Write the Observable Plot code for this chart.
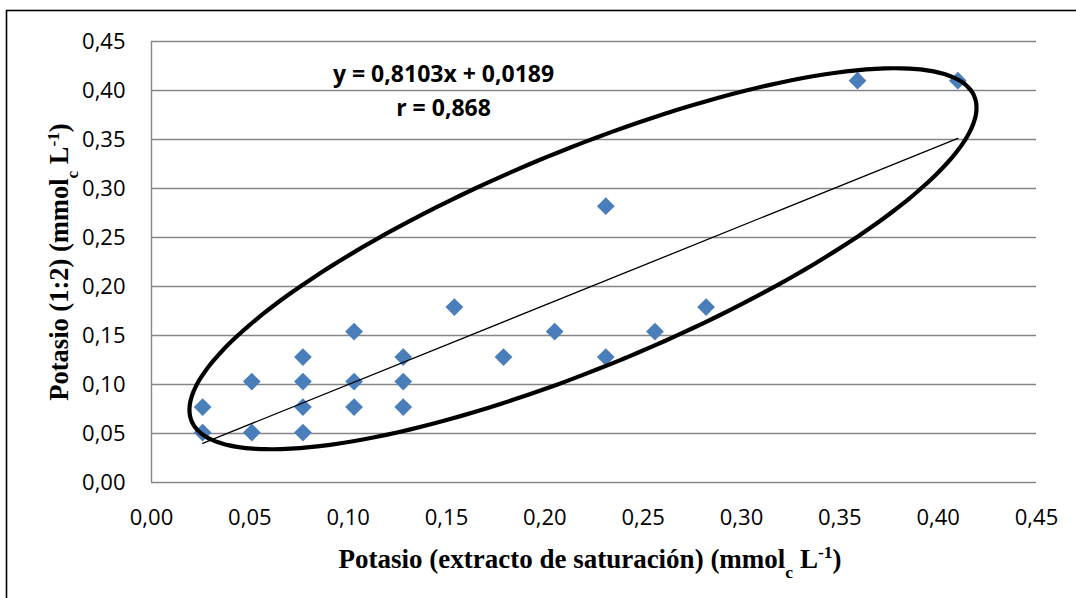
<!DOCTYPE html>
<html>
<head>
<meta charset="utf-8">
<script src="https://cdn.jsdelivr.net/npm/d3@7"></script>
<script src="https://cdn.jsdelivr.net/npm/@observablehq/plot@0.6"></script>
<style>
  html, body { margin: 0; padding: 0; background: #fff; }
  #chart { width: 1076px; height: 598px; }
</style>
</head>
<body>
<div id="chart"></div>
<script>
// ---- data ----
const xValues = [0.026, 0.026, 0.051, 0.051, 0.077, 0.077, 0.077, 0.077, 0.103, 0.103, 0.103,
                 0.128, 0.128, 0.128, 0.154, 0.179, 0.205, 0.231, 0.231, 0.256, 0.282, 0.359, 0.410];
const yValues = [0.051, 0.077, 0.103, 0.051, 0.128, 0.103, 0.077, 0.051, 0.154, 0.103, 0.077,
                 0.128, 0.103, 0.077, 0.179, 0.128, 0.154, 0.282, 0.128, 0.154, 0.179, 0.410, 0.410];
const xTicks = [0, 0.05, 0.10, 0.15, 0.20, 0.25, 0.30, 0.35, 0.40, 0.45];
const yTicks = [0, 0.05, 0.10, 0.15, 0.20, 0.25, 0.30, 0.35, 0.40, 0.45];
const slope = 0.8103, intercept = 0.0189;
const equationLines = ["y = 0,8103x + 0,0189", "r = 0,868"];
const equationPos = [[0.1485, 0.416], [0.1485, 0.381]];
// hand-drawn ellipse annotation (data units): centre, half-width in x,
// y offset at the x-extreme, and the remaining y half-axis
const ellipseShape = {cx: 0.2194, cy: 0.2283, halfX: 0.2001, yAtXmax: 0.1541, halfYOther: 0.1185};

// ---- derived tables ----
const points = xValues.map((x, i) => ({x, y: yValues[i]}));
const xMin = d3.min(xValues), xMax = d3.max(xValues);
const trend = [xMin, xMax].map(x => ({x, y: slope * x + intercept}));
const ellipse = d3.range(0, 361, 2).map(deg => {
  const t = deg * Math.PI / 180;
  return {
    x: ellipseShape.cx + ellipseShape.halfX * Math.cos(t),
    y: ellipseShape.cy + ellipseShape.yAtXmax * Math.cos(t) + ellipseShape.halfYOther * Math.sin(t)
  };
});
const equation = equationLines.map((label, i) => ({label, x: equationPos[i][0], y: equationPos[i][1]}));
const fmt = d => d.toFixed(2).replace(".", ",");

const gridColor = "#868686";

const chart = Plot.plot({
  width: 1076,
  height: 598,
  marginLeft: 151,
  marginRight: 40,
  marginTop: 41,
  marginBottom: 116,
  x: {domain: [0, 0.45]},
  y: {domain: [0, 0.45]},
  style: {fontFamily: "'Open Sans', sans-serif", fontSize: "22px", color: "#000", background: "#fff", overflow: "visible"},
  marks: [
    Plot.gridY(yTicks, {stroke: gridColor, strokeOpacity: 1, strokeWidth: 1.4}),
    Plot.ruleX([0], {stroke: gridColor, strokeWidth: 1.4}),
    Plot.axisX(xTicks, {tickSize: 0, tickPadding: 27, tickFormat: fmt, label: null, fontSize: 22, fill: "#000"}),
    Plot.axisY(yTicks, {tickSize: 0, tickPadding: 26, tickFormat: fmt, label: null, fontSize: 22, fill: "#000"}),
    Plot.dot(points, {x: "x", y: "y", symbol: "diamond2", r: 8, fill: "#4A7EBB", stroke: "none"}),
    Plot.line(trend, {x: "x", y: "y", stroke: "#000", strokeWidth: 1.3}),
    Plot.line(ellipse, {x: "x", y: "y", stroke: "#000", strokeWidth: 4.2, curve: "catmull-rom"}),
    Plot.text(equation, {x: "x", y: "y", text: "label", fontWeight: "bold", fontSize: 23, fill: "#000", textAnchor: "middle"})
  ]
});

const svg = d3.select(chart);
// outer frame (left and top edges visible)
svg.insert("rect", ":first-child")
  .attr("x", 6.5).attr("y", 10.5).attr("width", 1100).attr("height", 620)
  .attr("fill", "none").attr("stroke", "#000").attr("stroke-width", 1.6);

const serif = "'Liberation Serif', 'Times New Roman', serif";
// x axis title
const xt = svg.append("text")
  .attr("x", 590).attr("y", 568)
  .attr("text-anchor", "middle")
  .attr("font-family", serif).attr("font-weight", "bold").attr("font-size", 27).attr("fill", "#000");
xt.append("tspan").text("Potasio (extracto de saturación) (mmol");
xt.append("tspan").attr("baseline-shift", "sub").attr("font-size", "65%").text("c");
xt.append("tspan").text(" L");
xt.append("tspan").attr("baseline-shift", "super").attr("font-size", "65%").text("-1");
xt.append("tspan").text(")");

// y axis title
const yt = svg.append("text")
  .attr("transform", "translate(68,262) rotate(-90)")
  .attr("text-anchor", "middle")
  .attr("font-family", serif).attr("font-weight", "bold").attr("font-size", 26.5).attr("fill", "#000");
yt.append("tspan").text("Potasio (1:2) (mmol");
yt.append("tspan").attr("baseline-shift", "sub").attr("font-size", "65%").text("c");
yt.append("tspan").text(" L");
yt.append("tspan").attr("baseline-shift", "super").attr("font-size", "65%").text("-1");
yt.append("tspan").text(")");

document.getElementById("chart").appendChild(chart);
</script>
</body>
</html>
